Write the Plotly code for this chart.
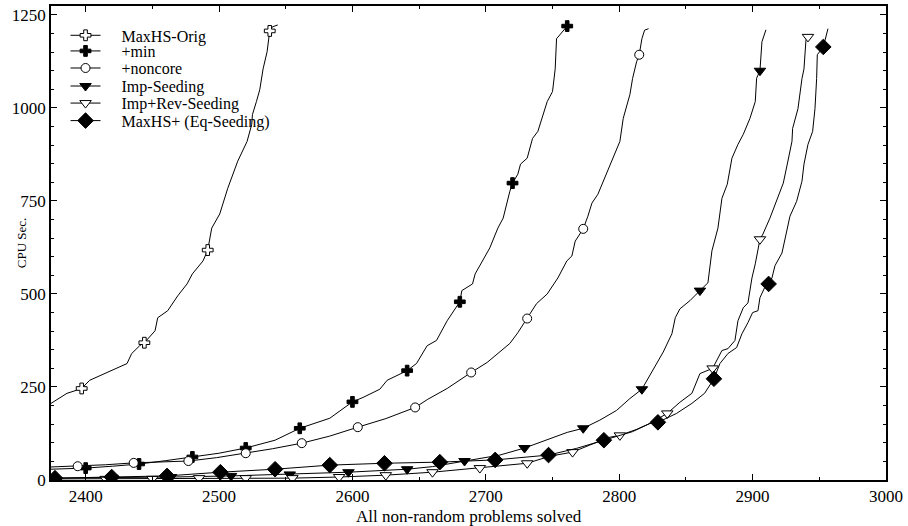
import plotly.graph_objects as go

# ---------------- data ----------------
orig_x = [2374, 2386, 2393, 2397, 2403, 2416, 2431, 2434.5, 2440.5, 2444, 2452, 2454, 2461.5, 2469, 2476, 2480,
          2488, 2491.5, 2494.5, 2500.5, 2506.5, 2514, 2521, 2524.5, 2525, 2528, 2530.5, 2533, 2536, 2538, 2540, 2544]
orig_y = [206, 233, 241, 246, 268, 289, 313, 340, 361, 369, 401, 436, 455, 495, 527, 554,
          589, 618, 677, 715, 784, 857, 910, 956, 982, 1017, 1049, 1105, 1151, 1207, 1218, 1223]
orig_mx = [2397, 2444, 2491.5, 2538]
orig_my = [246, 369, 618, 1207]

min_x = [2374, 2400, 2420, 2440, 2460, 2480, 2500, 2520, 2542, 2560.5, 2583, 2600, 2608, 2620.5, 2626, 2641,
         2648, 2656, 2663, 2671, 2680.5, 2682, 2690, 2692, 2703, 2709, 2713, 2718, 2720, 2724, 2726, 2731,
         2735, 2739, 2744, 2746, 2750, 2752, 2753, 2756, 2761]
min_y = [29, 32, 37, 43, 52, 62, 72, 86, 107, 139, 166, 210, 222, 244, 268, 294,
         313, 361, 375, 428, 479, 509, 527, 554, 624, 677, 704, 776, 798, 822, 849, 865,
         918, 937, 990, 1017, 1044, 1105, 1186, 1199, 1220]
min_mx = [2400, 2440, 2480, 2520, 2560.5, 2600, 2641, 2680.5, 2720, 2761]
min_my = [32, 43, 62, 86, 139, 210, 294, 479, 798, 1220]

nc_x = [2374, 2394, 2415, 2436, 2456, 2477, 2498, 2520, 2540, 2562, 2583, 2604, 2625, 2647, 2656.5, 2671,
        2682, 2689, 2701, 2710.5, 2718, 2724, 2731, 2738, 2746, 2754, 2760.75, 2764.5, 2767, 2773, 2776.5,
        2779.5, 2784, 2788, 2795, 2800.5, 2803, 2808, 2810, 2813, 2815, 2817, 2819, 2822]
nc_y = [35, 37, 41, 46, 48, 51, 60, 72, 84, 99, 118, 142, 165, 195, 217, 246,
        273, 289, 316, 345, 367, 396, 434, 474, 500, 543, 589, 602, 642, 675, 709,
        744, 768, 803, 865, 910, 972, 1036, 1079, 1124, 1143, 1186, 1209, 1213]
nc_mx = [2394, 2436, 2477, 2520, 2562, 2604, 2647, 2689, 2731, 2773, 2815]
nc_my = [37, 46, 51, 72, 99, 142, 195, 289, 434, 675, 1143]

imp_x = [2374, 2420, 2464, 2509, 2553, 2597, 2641, 2660, 2673, 2684, 2710.5, 2729, 2748, 2761, 2773, 2785.5,
         2798, 2808, 2817, 2825, 2833, 2839.5, 2842, 2845.5, 2853, 2860.5, 2866.5, 2869.5, 2874, 2877, 2881,
         2884.5, 2889, 2893, 2898, 2902, 2903, 2905.5, 2907, 2910]
imp_y = [5, 6, 8, 11, 15, 21, 29, 36, 44, 51, 67, 86, 112, 128, 139, 161,
         187, 219, 244, 294, 344, 393, 436, 460, 482, 509, 530, 616, 677, 757, 795,
         865, 902, 929, 972, 1017, 1080, 1100, 1178, 1210]
imp_mx = [2420, 2464, 2509, 2553, 2597, 2641, 2684, 2729, 2773, 2817, 2860.5, 2905.5]
imp_my = [6, 8, 11, 15, 21, 29, 51, 86, 139, 244, 509, 1100]

rev_x = [2374, 2415, 2450, 2485, 2520, 2555, 2590, 2625, 2660, 2695.5, 2731, 2748, 2765, 2778, 2793, 2800.5,
         2813, 2823, 2836, 2845.5, 2854.5, 2860.5, 2870, 2877, 2881.5, 2886.75, 2889, 2893, 2896.5, 2899.5,
         2902, 2905.5, 2907.75, 2913, 2918, 2920.5, 2923, 2926, 2929.5, 2930, 2934, 2937, 2938.5, 2940, 2941.5]
rev_y = [3, 3, 3, 5, 5, 5, 8, 13, 21, 32, 45, 64, 75, 94, 115, 120,
         136, 152, 179, 209, 233, 286, 300, 348, 353, 375, 428, 463, 476, 543,
         581, 647, 661, 704, 749, 776, 798, 849, 910, 945, 998, 1079, 1105, 1183, 1191]
rev_mx = [2415, 2450, 2485, 2520, 2555, 2590, 2625, 2660, 2695.5, 2731, 2765, 2800.5, 2836, 2870, 2905.5, 2941.5]
rev_my = [3, 3, 5, 5, 5, 8, 13, 21, 32, 45, 75, 120, 179, 300, 647, 1191]

eq_x = [2374, 2377, 2419.5, 2461, 2501, 2542, 2583, 2624, 2665.5, 2707, 2747, 2768, 2788.5, 2810, 2823, 2829,
        2843, 2854.5, 2864, 2871, 2875.5, 2881.5, 2888, 2892, 2896.5, 2900, 2904, 2905.5, 2909, 2912, 2914.5,
        2916.75, 2922, 2924, 2928, 2933, 2937, 2938.5, 2941.5, 2945, 2946.75, 2948, 2948.5, 2953, 2955, 2956.5]
eq_y = [5, 5, 8, 11, 21, 29, 40, 45, 48, 54, 67, 85, 107, 130, 152, 155,
        179, 206, 233, 272, 313, 340, 356, 393, 423, 450, 455, 490, 517, 527, 543,
        576, 610, 642, 709, 749, 803, 849, 902, 937, 998, 1079, 1143, 1164, 1191, 1213]
eq_mx = [2377, 2419.5, 2461, 2501, 2542, 2583, 2624, 2665.5, 2707, 2747, 2788.5, 2829, 2871, 2912, 2953]
eq_my = [5, 8, 11, 21, 29, 40, 45, 48, 54, 67, 107, 155, 272, 527, 1164]

series_names = ["MaxHS-Orig", "+min", "+noncore", "Imp-Seeding", "Imp+Rev-Seeding", "MaxHS+ (Eq-Seeding)"]
x_tick_vals = [2400, 2500, 2600, 2700, 2800, 2900, 3000]
y_tick_vals = [0, 250, 500, 750, 1000, 1250]

series = [
    (orig_x, orig_y, orig_mx, orig_my, "cross", "white", 9),
    (min_x, min_y, min_mx, min_my, "cross", "black", 9),
    (nc_x, nc_y, nc_mx, nc_my, "circle", "white", 9),
    (imp_x, imp_y, imp_mx, imp_my, "triangle-down", "black", 10),
    (rev_x, rev_y, rev_mx, rev_my, "triangle-down", "white", 10),
    (eq_x, eq_y, eq_mx, eq_my, "diamond", "black", 12),
]

FONT = "Liberation Serif"
legend_rows_y = [0.938, 0.905, 0.869, 0.831, 0.795, 0.758]
PAD = "\u00a0" * 4

fig = go.Figure()
layout_legends = {}
for i, (name, (lx, ly, mx, my, sym, fill, size)) in enumerate(zip(series_names, series)):
    lg = "legend" if i == 0 else f"legend{i + 1}"
    mk = dict(symbol=sym, color=fill, size=size, line=dict(color="black", width=1))
    fig.add_trace(go.Scatter(x=lx, y=ly, mode="lines", line=dict(color="black", width=1),
                             showlegend=False, hoverinfo="skip"))
    fig.add_trace(go.Scatter(x=mx, y=my, mode="markers", showlegend=False, marker=mk))
    fig.add_trace(go.Scatter(x=[None], y=[None], mode="lines+markers", name=PAD + name,
                             legend=lg, line=dict(color="black", width=1), marker=mk))
    layout_legends[lg] = dict(x=0.0174, y=legend_rows_y[i], xanchor="left", yanchor="middle",
                              bgcolor="rgba(0,0,0,0)", borderwidth=0, itemwidth=30,
                              font=dict(family=FONT, size=16, color="black"))

axis_common = dict(
    showgrid=False, zeroline=False, showline=True, linecolor="black", linewidth=1.5,
    mirror="allticks", ticks="inside", ticklen=6, tickwidth=1, tickcolor="black",
    tickfont=dict(family=FONT, size=17, color="black"),
)

fig.update_xaxes(range=[2374, 3000], tickvals=x_tick_vals,
                 minor=dict(dtick=50, ticks="inside", ticklen=3, tickcolor="black", showgrid=False),
                 **axis_common)
fig.update_yaxes(range=[0, 1274], tickvals=y_tick_vals,
                 minor=dict(dtick=50, ticks="inside", ticklen=3, tickcolor="black", showgrid=False),
                 **axis_common)

fig.update_layout(
    width=908, height=526,
    margin=dict(l=51, r=22, t=4, b=46),
    paper_bgcolor="white", plot_bgcolor="white",
    font=dict(family=FONT, color="black"),
    annotations=[
        dict(text="CPU Sec.", xref="paper", yref="paper", x=-0.047, y=0.5, showarrow=False,
             textangle=-90, font=dict(family=FONT, size=13, color="black")),
        dict(text="All non-random problems solved", xref="paper", yref="paper", x=0.5, y=-0.078,
             showarrow=False, yanchor="middle", font=dict(family=FONT, size=17, color="black")),
    ],
    **layout_legends,
)

fig.write_html("out.html", config={"displayModeBar": False},
               post_script="document.body.style.margin='0';")
